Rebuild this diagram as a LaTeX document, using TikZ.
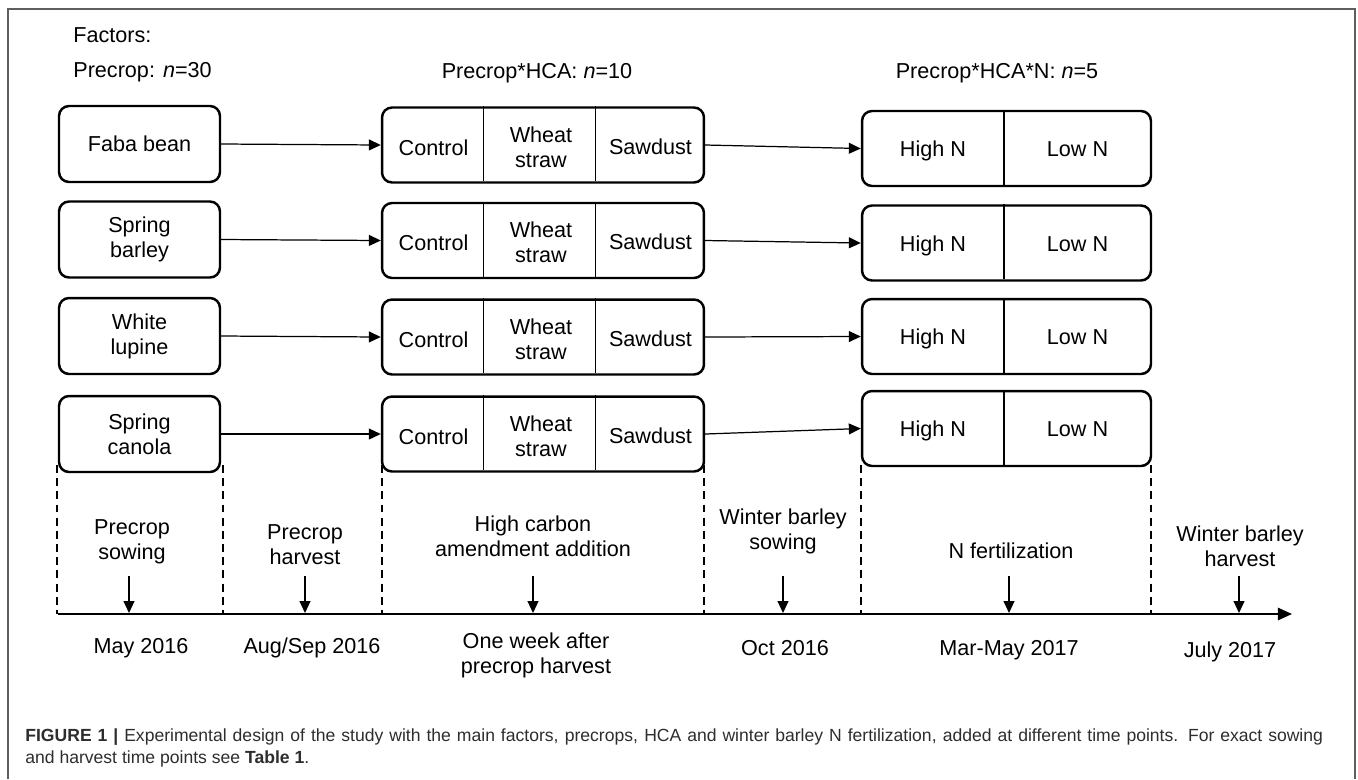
\documentclass[tikz,border=0pt]{standalone}
\usepackage{fontspec}
\setmainfont{Liberation Sans}
\usetikzlibrary{positioning, calc}
\usetikzlibrary{arrows.meta}

\begin{document}
\begin{tikzpicture}[x=0.02cm, y=-0.02cm, font=\fontsize{12.3}{14.2}\selectfont]
\definecolor{framegray}{RGB}{95,95,95};
\definecolor{captiongray}{RGB}{45,45,45};
\tikzstyle{cropbox}=[draw, line width=1.4pt, rounded corners=0.2cm,
                     minimum width=3.22cm, minimum height=1.52cm,
                     align=center, inner sep=0pt];
\tikzstyle{hcabox}=[cropbox, minimum width=6.44cm, minimum height=1.5cm];
\tikzstyle{nbox}=[cropbox, minimum width=5.78cm, minimum height=1.5cm];
\tikzstyle{cell}=[anchor=base, inner sep=0pt];
\tikzstyle{flow}=[line width=0.7pt, -{Triangle[length=6.8pt,width=6.2pt]}];
\tikzstyle{period}=[line width=1.1pt, dash pattern=on 4.5pt off 3pt];
\tikzstyle{cut}=[line width=0.6pt];
\useasboundingbox (0,0) rectangle (1358,779);
% frame
\draw [framegray, line width=1pt] (8,779) -- (8,9) -- (1355,9) -- (1355,779);
% factors
\node [anchor=base west, inner sep=0pt] (fac) at (73,42) {Factors:};
\node [anchor=base west, inner sep=0pt] (pc) at (73,77) {Precrop: \textit{n}=30};
\node [anchor=base, inner sep=0pt] (pchca) at (537,78) {Precrop*HCA: \textit{n}=10};
\node [anchor=base, inner sep=0pt] (pchcan) at (997,78) {Precrop*HCA*N: \textit{n}=5};
% rows
\foreach \i/\crop/\py/\hy/\ny in {1/{Faba bean}/144/145/148.5,
                                  2/{Spring\\barley}/239.5/240.5/243,
                                  3/{White\\lupine}/336/337/336.5,
                                  4/{Spring\\canola}/434/434/428.5} {
	\node [cropbox] (p\i) at (139.5,\py) {\crop};
	\node [hcabox] (h\i) at (543,\hy) {};
	\node [cell] (hc\i) at (433.5,\hy+10) {Control};
	\node [align=center] (hw\i) at (541,\hy+2) {Wheat\\straw};
	\node [cell] (hs\i) at (650.5,\hy+9) {Sawdust};
	\draw [cut] (h\i.north west) ++(103,0) -- ++(0,75);
	\draw [cut] (h\i.north west) ++(215,0) -- ++(0,75);
	\node [nbox] (n\i) at (1006.5,\ny) {};
	\node [cell] (nh\i) at (933,\ny+8) {High N};
	\node [cell] (nl\i) at (1077.5,\ny+8) {Low N};
	\draw [cut] (n\i.north) ++(-2.5,0) -- ++(0,75);
	\draw [flow] (p\i.east) -- (h\i.west);
	\draw [flow] (h\i.east) -- (n\i.west);
}
% time line
\foreach \x in {57,223,382,704,861,1151} {
	\draw [period] (\x,465) -- (\x,614);
}
\coordinate (t0) at (58,614);
\coordinate (t1) at (1292,614);
\draw [line width=1pt, -{Triangle[length=8pt,width=7pt]}] (t0) -- (t1);
\foreach \i/\ev/\ex/\ey/\ax/\dt/\dx/\dy in {
	1/{Precrop\\sowing}/132/542/129/{May 2016}/141/648,
	2/{Precrop\\harvest}/305/545/305/{Aug/Sep 2016}/312/648,
	3/{High carbon\\amendment addition}/533/536/533/{One week after\\precrop harvest}/536/655,
	4/{Winter barley\\sowing}/783/531/783/{Oct 2016}/785/648,
	5/{N fertilization}/1011/551/1009/{Mar-May 2017}/1009/650,
	6/{Winter barley\\harvest}/1240/546/1239/{July 2017}/1230/652} {
	\node [align=center] (ev\i) at (\ex,\ey) {\ev};
	\coordinate (tick\i) at (\ax,613);
	\draw [flow] (\ax,576) -- (tick\i);
	\node [align=center] (dt\i) at (\dx,\dy) {\dt};
}
% caption
\node [anchor=north west, inner sep=0pt, text width=25.96cm, align=justify,
       text=captiongray, font=\fontsize{10}{12.8}\selectfont] (cap) at (25,728)
      {\textbf{FIGURE 1 |} Experimental design of the study with the main factors, precrops, HCA and winter barley N fertilization, added at different time points. For exact sowing\linebreak
       and harvest time points see \textbf{Table 1}.};
\end{tikzpicture}
\end{document}
